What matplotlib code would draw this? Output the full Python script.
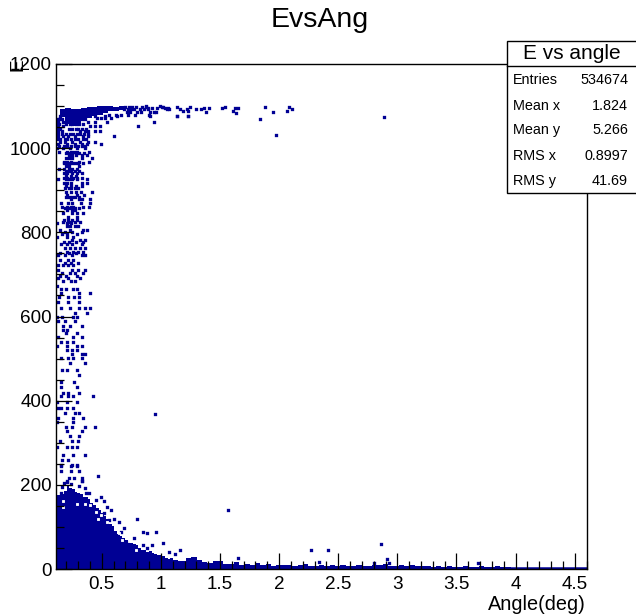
import numpy as np
import matplotlib
matplotlib.use("Agg")
import matplotlib.pyplot as plt
from matplotlib.patches import Rectangle
from matplotlib.ticker import MultipleLocator, FuncFormatter

plt.rcParams['font.family'] = ['Liberation Sans', 'DejaVu Sans']

# solid low energy part, upper edge per bin
core_angle = [.124,.146,.169,.191,.214,.236,.259,.281,.304,.326,.349,.371,.394,.416,.439,.461,
              .484,.506,.529,.551,.574,.596,.619,.641,.664,.686,.709,.731,.754,.776,.799,.821,
              .844,.866,.889,.911,.934,.956,.979,1.001,1.024,1.046,1.069,1.091,1.114,1.136,1.159]
core_top = [176,176,178,186,200,192,190,184,180,178,172,170,166,158,152,146,
            140,134,126,120,108,102,90,84,78,74,70,66,62,60,56,50,
            46,44,40,42,38,36,34,34,30,26,24,25,22,22,20]

# thin tail along the axis
tail_angle = [1.19,1.235,1.28,1.325,1.37,1.415,1.46,1.505,1.55,1.595,1.64,1.685,1.73,1.775,1.82,1.865,
              1.91,1.955,2.0,2.045,2.09,2.135,2.18,2.225,2.27,2.315,2.36,2.405,2.45,2.495,2.54,2.585,
              2.63,2.675,2.72,2.765,2.81,2.855,2.9,2.945,2.99,3.035,3.08,3.125,3.17,3.215,3.26,3.305,
              3.35,3.395,3.44,3.485,3.53,3.575,3.62,3.665,3.71,3.755,3.8,3.845,3.89,3.935,3.98,4.025,
              4.07,4.115,4.16,4.205,4.25,4.295,4.34,4.385,4.43,4.475,4.52,4.565]
tail_top = [20,26,28,22,16,14,18,20,13,12,16,10,12,10,14,10,
            12,8,10,9,10,8,9,11,8,7,10,8,9,7,10,8,
            7,9,8,7,9,10,12,8,7,9,8,9,6,8,7,5,
            6,4,7,5,4,6,5,4,7,5,4,6,4,4,3,3,
            3,3,3,3,3,3,3,3,3,3,3,3]

# white gaps inside the solid part
hole_angle = [.175,.175,.288,.355,.40,.449,.491,.468,.547,.646,.674,.73,.787]
hole_energy = [162,147,154,154,152,136,128,118,112,85,69,67,44]

# dense ridge at the top
ridge_angle = [.17,.215,.26,.305,.35,.395,.44,.485,.53,.575,.62,.665]
ridge_low = [1075,1058,1052,1060,1068,1072,1076,1080,1084,1088,1088,1090]
ridge_high = [1092,1096,1094,1092,1096,1098,1099,1100,1100,1100,1098,1100]

# single filled bins, row by row
row_energy = [1098,1092,1086,1080,1076,1072,1070,1063,1058,1053,1046,1040,1034,1030,1022,1015,1010,1004,1000,
              992,988,984,976,968,964,958,950,946,942,934,930,926,918,910,905,897,889,885,879,
              869,861,857,853,845,837,829,825,822,815,806,800,795,790,782,777,772,762,754,750,746,734,728,723,711,703,697,691,685,
              673,665,655,646,635,620,608,600,590,578,568,560,552,540,530,521,511,501,489,473,461,
              445,433,419,410,398,382,370,358,350,338,327,315,303,291,271,259,247,
              244,232,220,216,208]
row_angles = [
    [.70,.73,.76,.79,.84,.87],
    [.69,.72,.75,.77,.82,.86,.89],
    [.71,.74,.80,.83,.91,.96],
    [.56,.62,.66,.72,.78],
    [.147,.358,.443,.528,.626,.908,1.134,1.23],
    [.46,.49,.53,.58],
    [.12,.14,.16,.26,.30,.33,.36],
    [.133,.175,.288,.387,.443,.542,.942],
    [.12,.14,.20,.23,.25,.28,.31,.345],
    [.133,.175,.40,.443,.485,.81],
    [.12,.15,.22,.25,.28,.30,.33,.37],
    [.133,.161,.316,.358,.387,.443,.485],
    [.13,.16,.2,.23,.26,.29,.32,.35,.38],
    [.133,.175,.217,.274,.344,.387,.604],
    [.12,.15,.19,.21,.24,.27,.3,.34,.37],
    [.147,.189,.245,.316,.387,.443],
    [.133,.203,.274,.33,.372,.49],
    [.14,.18,.21,.24,.27,.3,.33,.36],
    [.119,.175,.232,.288,.358],
    [.138,.209,.237,.265,.293,.392],
    [.2,.22,.25,.28,.31,.35],
    [.223,.251,.279,.336,.378],
    [.195,.223,.251,.336,.42],
    [.181,.209,.237,.308,.392],
    [.18,.2,.22,.25,.27,.3,.34],
    [.195,.223,.308],
    [.138,.181,.223,.251,.293],
    [.2,.22,.24,.27,.31],
    [.181,.209,.251,.293,.336],
    [.195,.237,.279],
    [.18,.21,.24,.26,.29,.33],
    [.13,.195,.223,.251,.293,.378],
    [.181,.209,.237,.336,.378],
    [.195,.237,.279,.336],
    [.19,.22,.24,.27,.3],
    [.195,.237,.279,.322,.42],
    [.209,.293,.35],
    [.2,.22,.25,.27,.31],
    [.237,.308,.336,.4],
    [.153,.218,.246,.322,.401],
    [.161,.204,.237,.26,.339,.395],
    [.19,.22,.27,.31],
    [.204,.246,.274],
    [.175,.246,.288,.345],
    [.218,.288],
    [.181,.218,.246,.288],
    [.17,.23,.27,.32],
    [.119,.204,.237],
    [.209,.232,.274,.302],
    [.147,.232,.345,.373],
    [.19,.246,.33],
    [.16,.21,.29],
    [.125,.204,.26],
    [.246,.316,.359],
    [.18,.22,.28,.34],
    [.153,.204,.246,.33],
    [.19,.232,.274,.316,.359],
    [.204,.26,.302,.345],
    [.15,.22,.28],
    [.133,.19,.246,.33,.359],
    [.147,.218,.26],
    [.19,.24,.3],
    [.133,.175,.218,.26],
    [.133,.246,.302,.359],
    [.161,.232,.274,.345],
    [.15,.2,.29],
    [.133,.218,.316],
    [.17,.24,.27],
    [.125],
    [.153,.198,.254,.288],
    [.153,.311,.401],
    [.142,.218,.266,.311],
    [.133,.218,.311],
    [.153,.232,.311,.359,.401],
    [.274,.378],
    [.125,.161,.26,.288],
    [.133,.19,.274],
    [.175,.232,.33],
    [.175,.204],
    [.198,.294],
    [.133,.26,.33],
    [.153,.204,.26],
    [.125,.204,.288,.33],
    [.204,.246,.288],
    [.246,.33,.359],
    [.153,.218,.26,.33],
    [.232,.359],
    [.161,.204,.288],
    [.311],
    [.153,.266],
    [.153,.288],
    [.175,.218,.311],
    [.153,.218,.26,.424],
    [.125,.204,.288],
    [.133,.153,.209,.26],
    [.19,.274,.311],
    [.133,.26,.339],
    [.125,.26],
    [.198,.246,.359,.443],
    [.204,.33],
    [.232,.311],
    [.147,.246,.302],
    [.125,.204,.246,.288],
    [.175,.26,.359],
    [.161,.218],
    [.153,.246,.288],
    [.152,.243,.288],
    [.152,.243,.308],
    [.47],
    [.223,.265,.336],
    [.209,.336],
]

# loose points above the solid part and far from the column
loose_angle = [.209,.181,.237,.166,.336,.308,.355,.152,.237,.364,.392,.265,.491,.519,.449,.547,.575,.519,
               .561,.604,.646,.688,.66,.801,.852,.88,.956,1.021,.852,.928,1.069,1.117,1.162,.773,.886,
               .95,1.568,2.27,2.41,2.86,2.91,1.65,2.34,2.8,3.68,2.93,
               .894,.922,.945,.9,.874,.965,.993,1.02,1.007,1.035,1.063,1.049,1.072,1.134,1.162,1.19,1.219,
               1.247,1.233,1.134,1.227,1.295,1.337,1.365,1.382,1.408,1.52,1.543,1.613,1.627,1.656,1.636,
               1.836,1.884,1.952,1.974,2.065,2.087,2.11,2.888]
loose_energy = [207,204,202,196,209,197,192,181,184,180,181,170,170,162,164,148,140,132,
                116,120,112,97,89,118,89,86,89,61,57,57,41,36,45,73,49,
                368,140,45,45,60,24,26,17,14,14,14,
                1095,1095,1087,1079,1101,1095,1100,1099,1099,1096,1096,1092,1092,1099,1092,1089,1092,
                1099,1089,1076,1076,1092,1092,1095,1086,1095,1095,1099,1089,1095,1095,1083,
                1070,1099,1086,1032,1089,1097,1092,1073]

stat_names = ["Entries", "Mean x", "Mean y", "RMS x", "RMS y"]
stat_values = ["534674", "1.824", "5.266", "0.8997", "41.69"]

blue = "#000094"
w, h = 636, 614


def bin_edges(centers, width):
    c = np.array(centers)
    return np.append(c - width/2, c[-1] + width/2)


fig = plt.figure(figsize=(w/100, h/100), dpi=100)
ax = fig.add_axes([56/w, 1-569/h, (586.5-56)/w, (569-64)/h])

xs = []
ys = []
for e, angs in zip(row_energy, row_angles):
    for a in angs:
        xs.append(a)
        ys.append(e)
xs += loose_angle
ys += loose_energy

ax.stairs(core_top, bin_edges(core_angle, 0.0225), fill=True, color=blue, linewidth=0)
ax.stairs(tail_top, bin_edges(tail_angle, 0.045), fill=True, color=blue, linewidth=0)
ax.stairs(ridge_high, bin_edges(ridge_angle, 0.045), baseline=ridge_low, fill=True, color=blue, linewidth=0)
ax.scatter(xs, ys, marker="s", s=5.6, c=blue, linewidths=0, zorder=1.2, snap=False)
ax.scatter(hole_angle, hole_energy, marker="s", s=4.2, c="white", linewidths=0, zorder=1.5, snap=False)
ax.axhline(2, color=blue, lw=1.8, zorder=1.5)

ax.set_xlim(0.113, 4.6)
ax.set_ylim(0, 1200)

ax.xaxis.set_major_locator(MultipleLocator(0.5))
ax.xaxis.set_minor_locator(MultipleLocator(0.1))
ax.yaxis.set_major_locator(MultipleLocator(200))
ax.yaxis.set_minor_locator(MultipleLocator(50))
ax.xaxis.set_major_formatter(FuncFormatter(lambda v, p: f"{v:g}"))
ax.tick_params(which="major", direction="in", length=11.5, width=0.9, labelsize=13.6, pad=3)
ax.tick_params(which="minor", direction="in", length=5.8, width=0.9)
ax.tick_params(axis="x", which="major", pad=5)
for s in ax.spines.values():
    s.set_linewidth(1.0)

fig.text(320/w, 1-20/h, "EvsAng", fontsize=20.5, ha="center", va="center")
fig.text(586/w, 1-604/h, "Angle(deg)", fontsize=14.3, ha="right", va="center")
fig.text(18/w, 1-65/h, "E", fontsize=13.6, rotation=90, ha="center", va="center")

# stats box
fig.add_artist(Rectangle((507/w, 1-193/h), 135/w, 152/h, transform=fig.transFigure,
                         facecolor="white", edgecolor="black", lw=1.0, zorder=5))
fig.add_artist(plt.Line2D([507/w, 1], [1-66/h, 1-66/h], color="black", lw=1.0, zorder=6))
fig.text(572/w, 1-53.5/h, "E vs angle", fontsize=15, ha="center", va="center", zorder=7)
row_y = [80, 106, 130, 156, 181]
for name, val, y in zip(stat_names, stat_values, row_y):
    fig.text(513/w, 1-y/h, name, fontsize=10.4, ha="left", va="center", zorder=7)
    fig.text(628/w, 1-y/h, val, fontsize=10.4, ha="right", va="center", zorder=7)

fig.savefig("out.png", dpi=100)
